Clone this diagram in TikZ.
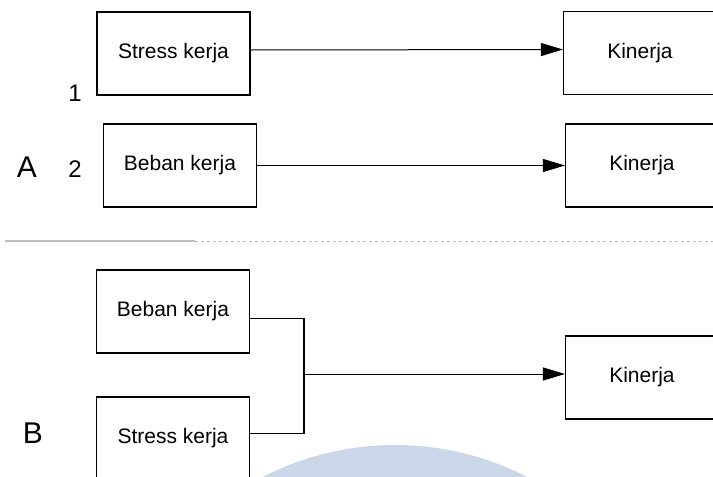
\documentclass[tikz,border=0pt]{standalone}
\usepackage{fontspec}
\setmainfont{Liberation Sans}
\usetikzlibrary{arrows.meta,positioning}
\definecolor{lineGray}{RGB}{190,190,190}
\definecolor{markBlue}{RGB}{203,215,233}

\begin{document}
\begin{tikzpicture}[x=1pt,y=-1pt,
    varbox/.style={draw,line width=1.1pt,minimum width=153pt,minimum height=83pt,inner sep=0pt,font=\fontsize{21}{25}\selectfont},
    link/.style={line width=1pt,-{Triangle[length=22pt,width=13pt]}},
    numlabel/.style={font=\fontsize{24}{28}\selectfont},
    partlabel/.style={font=\fontsize{30}{34}\selectfont}]
    \useasboundingbox (0,0) rectangle (713,477);
    \clip (0,0) rectangle (713,477);

    % background mark
    \fill[markBlue] (395,733) circle (288pt);

    % Part A
    \node[varbox] (stressA) at (173.5,53.5) {Stress kerja};
    \node[varbox] (kinA1) at (640,53) {Kinerja};
    \node[varbox] (bebanA) at (180,165.5) {Beban kerja};
    \node[varbox] (kinA2) at (642,165.5) {Kinerja};
    \node[numlabel] (one) at (75,93) {1};
    \node[numlabel] (two) at (75,169) {2};
    \node[partlabel] (labA) at (27,167) {A};
    \draw[link] ([yshift=3.5pt]stressA.east) -- ([yshift=3.5pt]kinA1.west);
    \draw[link] (bebanA.east) -- (kinA2.west);

    % divider
    \draw[lineGray,line width=1.3pt] (5,241) -- (195,241);
    \draw[lineGray,line width=1pt,dashed] (195,241) -- (713,241);

    % Part B
    \node[varbox] (bebanB) at (173,311.5) {Beban kerja};
    \node[varbox] (stressB) at (173,438.5) {Stress kerja};
    \node[varbox] (kinB) at (642,377.5) {Kinerja};
    \node[partlabel] (labB) at (33,433) {B};
    \coordinate (joinB) at (304,374);
    \draw[line width=1.4pt] ([yshift=-7pt]bebanB.east) -| (joinB) |- ([yshift=5pt]stressB.east);
    \draw[link] (joinB) -- (joinB -| kinB.west);
\end{tikzpicture}
\end{document}
